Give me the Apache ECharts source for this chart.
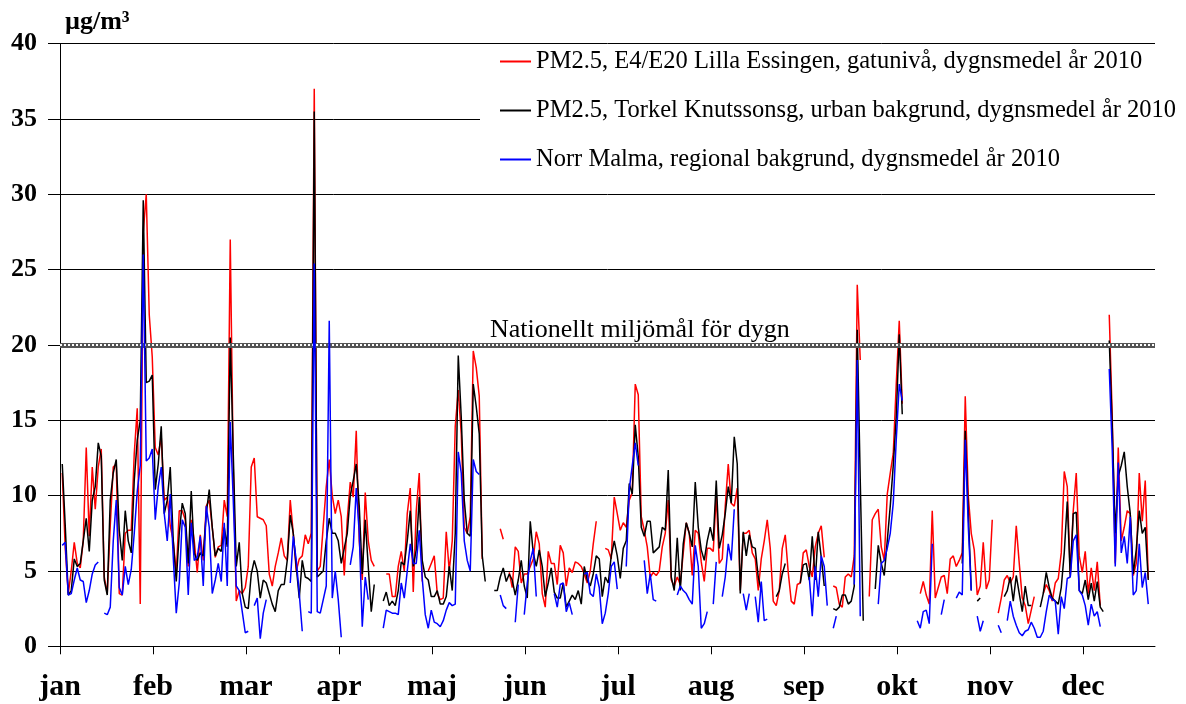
<!DOCTYPE html>
<html><head><meta charset="utf-8">
<script src="https://cdn.jsdelivr.net/npm/echarts@6/dist/echarts.min.js"></script>
<style>html,body{margin:0;padding:0;background:#fff}#c{width:1186px;height:704px}</style>
</head><body><div id="c"></div>
<script>
const months = ['jan','feb','mar','apr','maj','jun','jul','aug','sep','okt','nov','dec'];
const yTicks = [0,5,10,15,20,25,30,35,40];
const targetValue = 20;
const targetLabel = 'Nationellt miljömål för dygn';
const unitLabel = 'µg/m³';
const names = [
  'PM2.5, E4/E20 Lilla Essingen, gatunivå, dygnsmedel år 2010',
  'PM2.5, Torkel Knutssonsg, urban bakgrund, dygnsmedel år 2010',
  'Norr Malma, regional bakgrund, dygnsmedel år 2010'
];
const _ = null;
// E4/E20 Lilla Essingen (red), daily means, day 0 = 1 Jan
const lillaEssingen = [
11.5,6.5,3.5,5,6.9,5.5,5.2,7,13.2,7.3,
11.9,9.1,11.9,13.1,4.6,3.5,8,11.9,12.1,3.5,
3.4,7.5,7.7,7.7,12.8,15.8,2.8,27.5,30,22,
19.2,13.2,12.7,13.9,9.7,9.9,8,7,4.8,9,
9,8.4,5.3,8.4,7,4.9,7.4,5.7,9.3,9.7,
7.9,5.9,6.6,6.7,9.7,8.6,27,11.9,3,3.7,
3.5,3.9,5.3,11.9,12.5,8.6,8.5,8.4,8,4.8,
4,5.3,6.2,7.2,6,5.7,9.7,7.5,5,5.8,
6,7.4,6.8,7.5,37,5,5.3,8,10.6,12.4,
10,8.8,9.7,8.6,4.7,8.4,10.9,9.9,14.3,7,
4.4,10.2,7,5.7,5.3,_,_,_,4.8,4.8,
3.3,3.3,5.3,6.3,5,8.8,10.5,3.6,9,11.5,
4.3,_,5,5.5,6,3.5,3.1,3.2,7.6,5,
7,14.6,17,14.1,7.9,7.5,8.6,19.6,18.5,16.6,
5.8,_,_,_,_,_,7.8,7.1,_,4.9,
3.9,6.6,6.3,4.2,4.8,4.8,5.3,5.8,7.6,6.8,
3.5,2.6,6.3,5.5,5.5,4.1,6.7,6.2,4,5.2,
4.9,5.6,5.5,5.3,4.8,4.2,5,6.8,8.3,_,
_,6.5,6.4,5.8,9.9,8.8,7.7,8.2,7.9,9.7,
10.2,17.4,16.7,8.6,7.7,6.6,4.6,4.9,4.7,5,
6.6,7.5,9.7,4.4,4,4.6,4.1,6.2,8.2,7.5,
4.7,7.7,7.5,5.6,4.3,6.5,6.5,6.3,10.1,5.5,
5.8,9.3,12.1,9.5,9.3,10.5,3.7,7.5,7.5,7.7,
6.2,5.8,3.7,5.8,7,8.4,6.5,3,2.7,3.7,
6.5,7.4,4.9,3,2.8,4.1,4.2,6.2,6.4,5.3,
4.6,6.6,7.5,8,5.9,_,_,4,3.9,2.8,
2.6,4.6,4.8,4.6,6,24,19,_,_,3.3,
8.4,8.8,9.1,6.6,5.7,10.1,11.5,12.8,17.4,21.6,
16.1,_,_,_,_,_,3.5,4.3,3.4,2.8,
9,3.2,3.9,4.6,4.7,3.5,5.8,6,5.3,5.7,
6.2,16.6,10,7.5,6.4,3.4,4,6.9,3.8,4.4,
8.4,_,2.2,3.2,4.4,4.7,4.2,4.6,8,5.5,
3.2,2.7,1.5,2.4,3.3,_,_,3.5,4.1,3.7,
3,4.2,4.5,6.2,11.6,10.6,4.8,9,11.5,6,
4.9,6.3,3.5,5.2,3.7,5.6,2.7,_,_,22,
15.2,5.5,13.2,7,7.9,9,8.8,4.7,5.5,11.5,
8.3,11,4.5,_,_
];
// Torkel Knutssonsgatan (black)
const torkelKnutssonsg = [
12.1,8,3.4,3.7,5.8,5.3,5.5,7,8.5,6.3,
9.7,10.6,13.5,12.6,4.4,3.4,9.7,11.5,12.4,7.7,
5.7,9,7,6.2,11,13.7,15,29.6,17.5,17.6,
18,10.4,12.1,14.6,8.8,9.7,11.9,7,4.3,7.5,
9.5,8.8,5.5,10.3,6.2,5.7,6.2,6,8.8,10.4,
7.9,6,6.5,6.3,7.9,6.6,20.5,12.8,5.3,6.9,
3.5,2.6,2.5,4.8,5.7,5,3.2,4.4,4.2,3.5,
2.8,2.3,3.7,4.1,4.1,5.7,8.7,7.5,5.3,3.2,
5.7,4.6,4.5,4.3,35.5,4.6,4.8,5,7,8.5,
7.5,7.5,7,5.5,6.5,7.5,10,11,12.1,9.3,
4.8,8.4,5.3,2.3,4.1,_,_,3,3.6,2.7,
3,2.7,3.7,5.6,5.4,7,9,5.3,6.4,9.9,
5.7,4.6,4.4,3.3,3.3,3.7,2.8,2.8,3.3,5.3,
3.7,7.5,19.3,15.2,9.7,7.5,7.3,17.4,15.9,14.1,
6,4.3,_,_,3.7,3.7,4.6,5.2,4.3,4.8,
4.4,3.4,4.4,5.7,4,3.2,8.3,6.2,5.3,6.4,
5.3,3.3,4.2,5.2,3.6,3.2,3.2,4.2,2.6,3,
3.4,3.1,3.7,2.8,5.3,4.4,4,4.8,6,5.8,
3.3,4.6,4.2,6,7,6,4.5,6.5,7,10.8,
10.1,14.7,12.6,7.9,7.3,8.3,8.3,6.2,6.4,6.6,
7.9,7.7,11.7,4.6,3.7,7.2,3.7,6.8,8.2,7.5,
6.6,10.9,7.9,6.4,5.7,7,7.9,7,11,6.5,
7.4,8.8,10.6,9.5,13.9,12.1,3.5,7.6,6,7.4,
6.6,6.5,4.6,3.7,_,_,_,_,3.3,3.7,
4.8,5.5,_,_,_,_,4.2,5.4,5.5,4.4,
7.3,4.4,7.6,5.9,4,_,_,2.5,2.4,2.6,
3.4,3.4,2.8,3,4,21,11,1.7,_,_,
_,3.8,6.7,5.5,4.7,7,9.3,12,15.2,20.7,
15.4,_,_,_,_,_,_,_,_,_,
_,_,_,_,_,_,_,_,_,_,
5.5,14.3,9,3.7,_,3,3.2,_,_,_,
_,_,_,_,3.3,3.7,4.6,3,4.7,3.5,
2.3,4,2.7,2.7,_,_,2.6,3.5,4.9,3.9,
3.2,3,2.8,3.9,6.2,9.6,4.6,8.8,8.9,3.7,
3.5,4.4,3.1,4.2,3,4.3,2.6,2.3,_,20.3,
14.6,7.5,11.3,12,12.9,10.6,8.8,4.8,6.4,9,
7.5,7.9,4.4,_,_
];
// Norr Malma (blue)
const norrMalma = [
6.7,6.9,3.4,3.5,4.4,5.2,4.4,4.3,2.9,3.7,
4.8,5.4,5.6,_,2.2,2.1,2.6,7,9.7,3.9,
3.4,5.3,4.1,5.1,7.5,10.3,12,26,12.3,12.5,
13.1,8.4,10.6,11.9,8.8,7,10.1,5.9,2.2,4.2,
8.4,7.9,3.4,8.2,5.7,5.9,7.3,4,9.3,7.9,
3.5,4.4,5.5,4.3,8.2,4,14.9,9.7,4,3.7,
2.3,0.9,1,_,2.7,3.2,0.5,2.2,3.1,_,
_,_,_,_,_,_,4.2,7.3,5.7,3.5,
1,_,2.3,2.2,25.4,2.3,2.2,3.1,4,21.6,
3.2,5,3.1,0.6,_,_,5.4,6.6,10.5,7.5,
1.3,4.6,3.1,_,_,_,_,1.2,2.4,2.3,
2.2,2.2,2.1,4.2,3.2,5,6.8,5.5,5.5,7.7,
4.5,2.1,1.2,2.4,1.6,1.5,1.3,1.7,2.4,2.9,
2.7,2.8,12.9,11.5,7,5.7,5,12.4,11.6,11.4,
_,_,_,_,_,_,3.4,2.7,2.5,_,
_,1.6,4.1,_,2.1,4.2,5.7,6.5,3.3,_,
_,_,_,_,3.5,2.6,4.1,4.2,2.3,2.9,
2.1,_,_,_,4.8,4.9,3.5,3.3,4.8,3.9,
1.5,2.2,3.5,5.3,5.6,3.8,_,_,5.3,10.4,
12,13.5,12,_,5.7,3.5,4.8,3.1,3,_,
_,_,_,_,_,3.4,4,3.7,3.5,3.1,
2.8,6.7,5.3,1.2,1.5,2.3,_,2.8,5.6,_,
3.3,4.6,6.8,5.7,9.1,_,_,3.5,2.4,3.5,
_,3.3,1.6,4.3,1.7,1.8,_,_,_,_,
_,_,_,_,_,_,_,_,_,4.6,
2,5.3,3.3,6,5.3,2.7,_,1.2,2,_,
_,_,_,_,4.1,19,2,_,_,_,
_,_,2.8,5.5,5.7,6.5,7.5,9.5,13.7,17.4,
16.3,_,_,_,_,1.7,1.2,2.3,2.4,1.5,
6.8,_,_,2.1,3.1,_,_,_,3.2,3.6,
3.4,13.7,8,3.7,_,2,1,1.7,_,_,
_,_,1.4,0.9,_,1.7,3,2,1.4,0.9,
0.7,1,1.1,1.6,1.2,0.6,0.6,1,2.3,3.4,
3.1,3,0.8,3.3,2.5,4.5,4.6,7,7.4,3.7,
3.4,2.7,1.4,2.8,2,2.3,1.3,_,_,18.4,
13,5.3,12.2,6.2,7.3,5.5,8.6,3.4,3.7,6.8,
3.9,4.9,2.8,_,_
];

const DAYS = 365;
const TICK_STEP = 31;
const monthTicks = months.map((m, i) => i * TICK_STEP);
const toPoints = arr => arr.map((v, i) => [i + 0.75, v == null ? '-' : v]);
const FONT = "'Liberation Serif', 'Times New Roman', serif";

const chart = echarts.init(document.getElementById('c'), null, {renderer: 'canvas'});
chart.setOption({
  animation: false,
  backgroundColor: '#fff',
  grid: {left: 60, right: 31, top: 43.6, bottom: 57.7, containLabel: false},
  xAxis: {
    type: 'value', min: 0, max: DAYS,
    axisLine: {show: true, lineStyle: {color: '#000', width: 1}},
    axisTick: {show: true, length: 8, lineStyle: {color: '#000'}, customValues: monthTicks},
    axisLabel: {
      show: true, customValues: monthTicks, margin: 26,
      formatter: v => months[Math.round(v / TICK_STEP)] || '',
      fontFamily: FONT, fontWeight: 'bold', fontSize: 30, color: '#000'
    },
    splitLine: {show: false}
  },
  yAxis: {
    type: 'value', min: 0, max: 40, interval: 5,
    axisLine: {show: true, lineStyle: {color: '#000', width: 1}},
    axisTick: {show: true, length: 12, lineStyle: {color: '#000'}},
    axisLabel: {margin: 23, fontFamily: FONT, fontWeight: 'bold', fontSize: 26, color: '#000',
      formatter: v => yTicks.indexOf(v) >= 0 ? String(v) : ''},
    splitLine: {show: true, lineStyle: {color: '#000', width: 1}}
  },
  legend: {
    data: names, orient: 'vertical', left: 480, top: 45,
    padding: [4, 12, 10, 20], itemGap: 24, itemWidth: 31, itemHeight: 2,
    backgroundColor: '#fff', icon: 'rect',
    textStyle: {fontFamily: FONT, fontSize: 24.5, color: '#000'}
  },
  series: [
    {type: 'line', name: 'ref', data: [], silent: true, z: 1,
      markLine: {silent: true, symbol: 'none', label: {show: false}, animation: false,
        data: [{yAxis: targetValue}], lineStyle: {color: '#555', width: 5, type: 'solid'}}},
    {type: 'line', name: 'ref2', data: [], silent: true, z: 1,
      markLine: {silent: true, symbol: 'none', label: {show: false}, animation: false,
        data: [{yAxis: targetValue}], lineStyle: {color: '#fff', width: 2, type: [2, 2]}}},
    {type: 'line', name: names[0], data: toPoints(lillaEssingen), showSymbol: false, symbol: 'none',
      connectNulls: false, lineStyle: {color: '#ff0000', width: 1.5}, itemStyle: {color: '#ff0000'}, z: 3},
    {type: 'line', name: names[1], data: toPoints(torkelKnutssonsg), showSymbol: false, symbol: 'none',
      connectNulls: false, lineStyle: {color: '#000000', width: 1.5}, itemStyle: {color: '#000000'}, z: 4},
    {type: 'line', name: names[2], data: toPoints(norrMalma), showSymbol: false, symbol: 'none',
      connectNulls: false, lineStyle: {color: '#0000ff', width: 1.5}, itemStyle: {color: '#0000ff'}, z: 5}
  ],
  graphic: [
    {type: 'text', left: 65, top: 9, z: 10,
      style: {text: unitLabel, font: "bold 26px " + FONT, fill: '#000'}},
    {type: 'text', x: 490, y: 330, z: 10,
      style: {text: targetLabel, font: "26px " + FONT, fill: '#000', verticalAlign: 'middle'}}
  ]
});
</script>
</body></html>
